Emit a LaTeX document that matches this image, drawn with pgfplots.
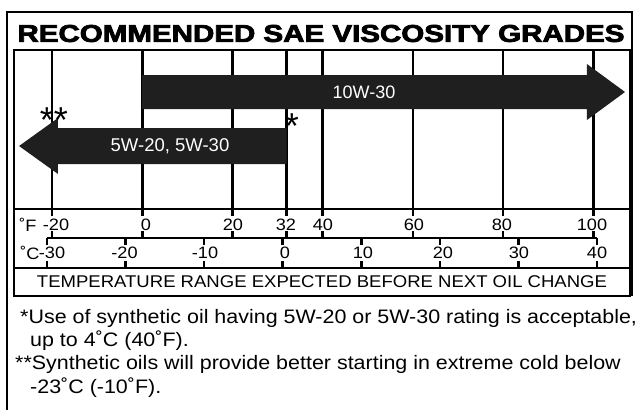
\documentclass[border=0pt]{standalone}
\usepackage{pgfplots}
\pgfplotsset{compat=1.18}
\usepackage{graphicx}
\usepackage{fontspec}
\setmainfont{Liberation Sans}
\newfontfamily\titlefont[FakeBold=3]{Liberation Sans Bold}
\newfontfamily\notefont[FakeStretch=1.1]{Liberation Sans}
\newfontfamily\rowfont[FakeStretch=1.09]{Liberation Sans}
\begin{document}
\begin{tikzpicture}
\begin{axis}[
  scale only axis, width=641pt, height=410pt,
  xmin=0, xmax=641, ymin=0, ymax=410, y dir=reverse,
  hide axis, clip=false, no markers,
  Fx/.style={x filter/.expression={52+4.51*(x+20)}},
  Cx/.style={x filter/.expression={47+7.857*(x+30)}},
]
% outer frame
\draw[line width=2.4pt, line join=miter] (7,410) -- (7,12) -- (632,12) -- (632,296);
% title
\node at (321,33.5) {\resizebox{607pt}{17pt}{\titlefont RECOMMENDED SAE VISCOSITY GRADES}};
% inner box
\draw[line width=2.4pt] (14,50) rectangle (630,296);
\draw[line width=2.4pt] (14,209) -- (630,209);
\draw[line width=2.4pt] (47,238) -- (597,238);
\draw[line width=2.4pt] (14,268) -- (630,268);
% Fahrenheit grid lines and ticks
\pgfplotsinvokeforeach{-20,0,20,32,40,60,80,100}{
  \addplot[Fx, black, line width=2.6pt] coordinates {(#1,50) (#1,216)};
  \addplot[Fx, black, line width=2.6pt] coordinates {(#1,231) (#1,238)};
}
% Celsius ticks
\pgfplotsinvokeforeach{-30,-20,-10,0,10,20,30,40}{
  \addplot[Cx, black, line width=2.6pt] coordinates {(#1,238) (#1,245)};
  \addplot[Cx, black, line width=2.6pt] coordinates {(#1,261) (#1,268)};
}
% arrows (temperature ranges, deg F)
\addplot[Fx, fill=black!88, draw=none] coordinates {(0,75) (98.6,75) (98.6,64) (107.05,92) (98.6,120) (98.6,109) (0,109)};
\addplot[Fx, fill=black!88, draw=none] coordinates {(32,128) (-18.67,128) (-18.67,118) (-27.3,146) (-18.67,174) (-18.67,164) (32,164)};
\node[white, font=\fontsize{18}{20}\selectfont] at (364,92) {10W-30};
\node[white, font=\fontsize{18.5}{20}\selectfont] at (170,146) {5W-20, 5W-30};
\node[anchor=base, font=\fontsize{36}{36}\selectfont, inner sep=0pt] at (54,132) {**};
\node[anchor=base, font=\fontsize{36}{36}\selectfont, inner sep=0pt] at (292,138.5) {*};
% axis labels
\begin{scope}[every node/.style={font=\notefont\fontsize{16.5}{17}\selectfont, inner sep=0pt}]
\node at (28,225) {˚F};
\node at (56,225) {-20};
\node at (146,225) {0};
\node at (233,225) {20};
\node at (286,225) {32};
\node at (323,225) {40};
\node at (414,225) {60};
\node at (502,225) {80};
\node at (592,225) {100};
\node at (30,253) {˚C};
\node at (52,253) {-30};
\node at (124.5,253) {-20};
\node at (205,253) {-10};
\node at (285,253) {0};
\node at (363,253) {10};
\node at (443,253) {20};
\node at (519,253) {30};
\node at (597,253) {40};
\end{scope}
\node[font=\rowfont\fontsize{17}{18}\selectfont] at (322,282) {TEMPERATURE RANGE EXPECTED BEFORE NEXT OIL CHANGE};
% footnotes
\begin{scope}[every node/.style={anchor=base west, inner sep=0pt, font=\notefont\fontsize{19.5}{21}\selectfont}]
\node at (20,323) {*Use of synthetic oil having 5W-20 or 5W-30 rating is acceptable,};
\node at (30,346) {up to 4˚C (40˚F).};
\node at (15,369) {**Synthetic oils will provide better starting in extreme cold below};
\node at (30,393) {-23˚C (-10˚F).};
\end{scope}
\end{axis}
\pgfresetboundingbox
\path (current axis.south west) rectangle (current axis.north east);
\end{tikzpicture}
\end{document}
